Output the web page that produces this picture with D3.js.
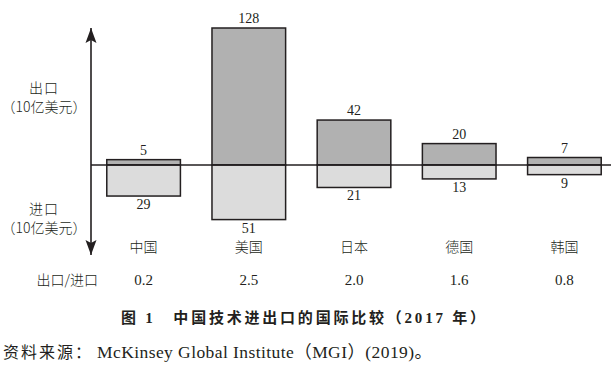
<!DOCTYPE html>
<html><head><meta charset="utf-8">
<script src="https://cdn.jsdelivr.net/npm/d3@7"></script>
<style>body{margin:0;background:#fff}svg{display:block}</style>
</head><body>
<script>
const categories = ["中国","美国","日本","德国","韩国"];
const exportsVal = [5,128,42,20,7];
const importsVal = [29,51,21,13,9];
const ratios = ["0.2","2.5","2.0","1.6","0.8"];

const W=616,H=367;
const svg=d3.select("body").append("svg").attr("width",W).attr("height",H);
const serif='"Liberation Serif","Noto Sans CJK SC",serif';
const cjk='"Noto Sans CJK SC",sans-serif';
const ink="#231f20";

const x=d3.scaleBand().domain(categories).range([91,617]).paddingInner(0.3).paddingOuter(0.15);
const y=d3.scaleLinear().domain([-128,128]).range([302,28]);
const y0=y(0);

const defs=svg.append("defs");
defs.append("marker").attr("id","ah").attr("viewBox","0 -6 15 12").attr("refX",15).attr("refY",0)
  .attr("markerWidth",15).attr("markerHeight",12).attr("markerUnits","userSpaceOnUse").attr("orient","auto-start-reverse")
  .append("path").attr("d","M15,0 L0,-5.5 L3,0 L0,5.5 Z").attr("fill",ink);

// bars
const g=svg.append("g");
categories.forEach((c,i)=>{
  g.append("rect").attr("x",x(c)).attr("width",x.bandwidth())
   .attr("y",y(exportsVal[i])).attr("height",y0-y(exportsVal[i]))
   .attr("fill","#b1b1b1").attr("stroke",ink).attr("stroke-width",1.5);
  g.append("rect").attr("x",x(c)).attr("width",x.bandwidth())
   .attr("y",y0).attr("height",y(-importsVal[i])-y0)
   .attr("fill","#dcdcdc").attr("stroke",ink).attr("stroke-width",1.5);
  const cx=x(c)+x.bandwidth()/2;
  g.append("text").attr("x",cx).attr("y",y(exportsVal[i])-5).attr("text-anchor","middle")
   .attr("font-family",serif).attr("font-size",14).attr("fill",ink).text(exportsVal[i]);
  g.append("text").attr("x",cx).attr("y",y(-importsVal[i])+13).attr("text-anchor","middle")
   .attr("font-family",serif).attr("font-size",14).attr("fill",ink).text(importsVal[i]);
  g.append("text").attr("x",cx).attr("y",252).attr("text-anchor","middle")
   .attr("font-family",cjk).attr("font-size",14).attr("font-weight",300).attr("fill",ink).text(c);
  g.append("text").attr("x",cx).attr("y",285).attr("text-anchor","middle")
   .attr("font-family",serif).attr("font-size",15).attr("fill",ink).text(ratios[i]);
});

// axes
svg.append("line").attr("x1",91).attr("x2",611).attr("y1",y0).attr("y2",y0).attr("stroke",ink).attr("stroke-width",1.6);
svg.append("line").attr("x1",91).attr("x2",91).attr("y1",28).attr("y2",255).attr("stroke",ink).attr("stroke-width",1.6)
  .attr("marker-start","url(#ah)").attr("marker-end","url(#ah)");

// axis labels
const lab=(t,xx,yy,anchor,size)=>svg.append("text").attr("x",xx).attr("y",yy).attr("text-anchor",anchor||"middle")
  .attr("font-family",cjk).attr("font-size",size||13).attr("font-weight",300).attr("fill",ink).text(t);
lab("出口",44,93,"middle",14).attr("letter-spacing",1);
lab("（10亿美元）",44,112,"middle",14);
lab("进口",44,214,"middle",14).attr("letter-spacing",1);
lab("（10亿美元）",44,233,"middle",14);
lab("出口/进口",98,285,"end",14);

svg.append("text").attr("x",121).attr("y",323)
  .attr("font-family",serif).attr("font-size",15).attr("font-weight",700).attr("fill",ink)
  .attr("textLength",364).attr("lengthAdjust","spacing")
  .text("图 1　中国技术进出口的国际比较（2017 年）");
const src=svg.append("text").attr("y",358).attr("font-family",serif).attr("font-size",17.5).attr("fill",ink);
src.append("tspan").attr("x",3).attr("textLength",88).attr("lengthAdjust","spacing").attr("font-size",16).text("资料来源：");
src.append("tspan").attr("x",97).attr("textLength",335).attr("lengthAdjust","spacing").text("McKinsey Global Institute（MGI）(2019)。");
</script>
</body></html>
